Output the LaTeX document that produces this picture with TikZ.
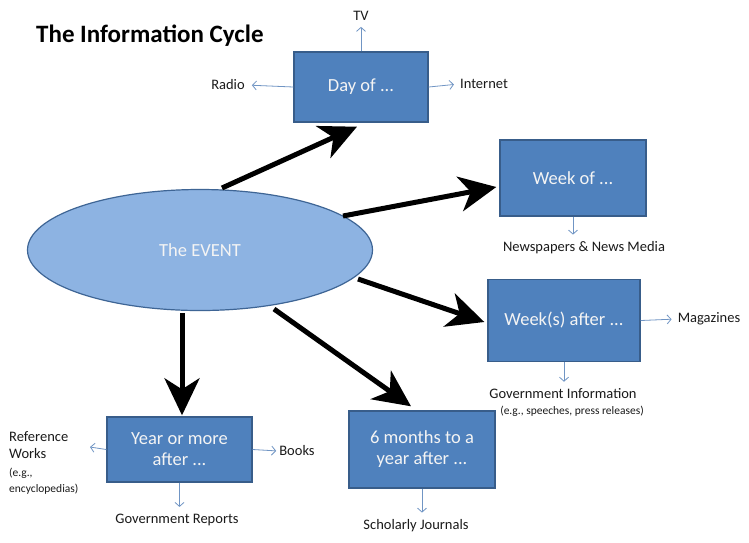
\documentclass[tikz,border=0pt]{standalone}
\usepackage{fontspec}
\setmainfont{Carlito}
\usetikzlibrary{arrows.meta,shapes.geometric}
\definecolor{boxfill}{HTML}{4F81BD}
\definecolor{boxline}{HTML}{385D8A}
\definecolor{ellfill}{HTML}{8DB3E2}
\definecolor{ellline}{HTML}{3E6595}
\definecolor{thinarrow}{HTML}{7095C4}
\definecolor{boxtext}{HTML}{F4F4F4}
\definecolor{lbltext}{HTML}{1A1A1A}
\tikzset{
  stagebox/.style={draw=boxline, line width=1.4pt, fill=boxfill, text=boxtext, align=center, font=\fontsize{18.5}{21}\selectfont, inner sep=0pt},
  lbl/.style={text=lbltext, font=\fontsize{14.5}{17}\selectfont, inner sep=1pt},
  small/.style={text=lbltext, font=\fontsize{11.5}{13}\selectfont, inner sep=1pt},
  blarrow/.style={draw=thinarrow, line width=0.8pt, -{Straight Barb[length=4pt,width=9pt]}},
  bigarrow/.style={draw=black, line width=5pt, -{Stealth[length=37pt,width=35pt,inset=11pt]}}
}
\begin{document}
\begin{tikzpicture}[x=1pt,y=-1pt]
\useasboundingbox[fill=white] (0,0) rectangle (749,542);

\node[anchor=west, text=black, font=\bfseries\fontsize{25}{28}\selectfont, inner sep=0pt] (title) at (36,36) {The Information Cycle};

% event
\node[ellipse, draw=ellline, line width=1.2pt, fill=ellfill, text=boxtext, minimum width=345pt, minimum height=121pt, font=\fontsize{18.5}{21}\selectfont] (event) at (200,250) {The EVENT};

% boxes
\node[stagebox, minimum width=134pt, minimum height=70pt] (day) at (361,87) {Day of ...};
\node[stagebox, minimum width=146pt, minimum height=76pt] (week) at (573,178) {Week of ...};
\node[stagebox, minimum width=152pt, minimum height=82pt] (weeks) at (564,320.5) {Week(s) after ...};
\node[stagebox, minimum width=146pt, minimum height=77pt] (six) at (422,449.5) {6 months to a\\year after ...};
\node[stagebox, minimum width=145pt, minimum height=65pt] (year) at (179.5,449.5) {Year or more\\after ...};

% labels
\node[lbl] (tv) at (361,16) {TV};
\node[lbl] (radio) at (228,85) {Radio};
\node[lbl] (internet) at (484,84) {Internet};
\node[lbl] (news) at (584,248) {Newspapers \& News Media};
\node[lbl] (mag) at (709,319) {Magazines};
\node[lbl] (gov) at (563,394) {Government Information};
\node[small] (govex) at (572,411) {(e.g., speeches, press releases)};
\node[lbl] (schol) at (416,526) {Scholarly Journals};
\node[lbl] (books) at (297,451) {Books};
\node[lbl] (govrep) at (177,520) {Government Reports};
\node[lbl, anchor=north west, align=left, inner sep=0pt] (ref) at (9,431) {Reference\\Works\\[1pt]{\fontsize{11.5}{14}\selectfont (e.g.,}\\[-1pt]{\fontsize{11.5}{14}\selectfont encyclopedias)}};
\coordinate (refend) at (90,447);

% thin blue arrows
\draw[blarrow, shorten >=5pt] (day.north) -- (day.north |- tv.south);
\draw[blarrow, shorten >=6pt] (day.west) -- (radio.east);
\draw[blarrow, shorten >=5pt] (day.east) -- (internet.west);
\draw[blarrow, shorten >=6pt] (week.south) -- (week.south |- news.north);
\draw[blarrow, shorten >=5pt] (weeks.east) -- (mag.west);
\draw[blarrow, shorten >=6pt] (weeks.south) -- (weeks.south |- gov.north);
\draw[blarrow, shorten >=6pt] (six.south) -- (six.south |- schol.north);
\draw[blarrow, shorten >=2pt] (year.east) -- (books.west);
\draw[blarrow, shorten >=6pt] (year.south) -- (year.south |- govrep.north);
\draw[blarrow] (year.west) -- (refend);

% thick black arrows
\draw[bigarrow] ([shift={(22,-62)}]event.center) -- ([shift={(-4,4)}]day.south);
\draw[bigarrow] ([shift={(143,-34)}]event.center) -- ([shift={(-3,9)}]week.west);
\draw[bigarrow] ([shift={(158,29)}]event.center) -- ([shift={(-3,1.5)}]weeks.west);
\draw[bigarrow] ([shift={(74,59)}]event.center) -- ([shift={(-11,-4)}]six.north);
\draw[bigarrow] ([shift={(-18,63)}]event.center) -- ([shift={(2.5,-1)}]year.north);
\end{tikzpicture}
\end{document}
